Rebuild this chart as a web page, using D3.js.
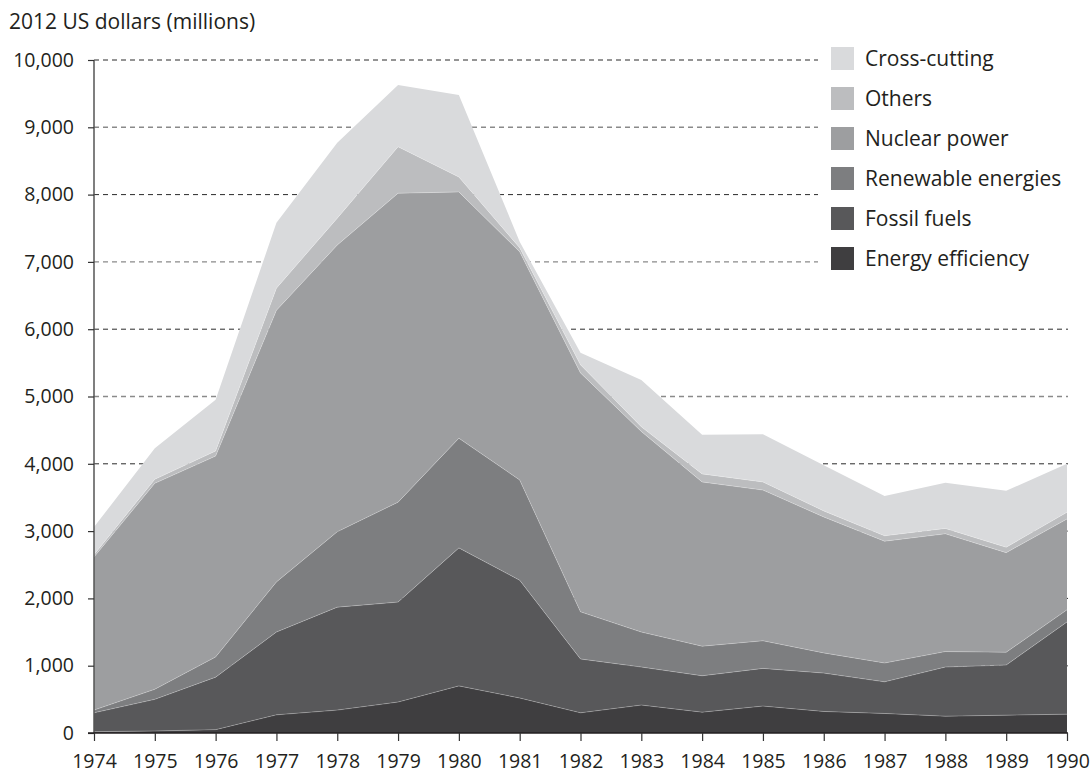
<!DOCTYPE html>
<html>
<head>
<meta charset="utf-8">
<script src="https://cdn.jsdelivr.net/npm/d3@7"></script>
<style>
  html, body { margin: 0; padding: 0; background: #fff; }
  svg { display: block; }
  text { font-family: "Open Sans", "Noto Sans", sans-serif; fill: #231f20; }
</style>
</head>
<body>
<svg id="chart" width="1090" height="775"></svg>
<script>
const years = [1974,1975,1976,1977,1978,1979,1980,1981,1982,1983,1984,1985,1986,1987,1988,1989,1990];
const energyEfficiency = [20,30,50,270,340,460,700,520,300,415,310,400,320,290,250,265,280];
const fossilFuels      = [280,470,780,1230,1530,1485,2050,1750,800,565,540,560,570,470,730,745,1370];
const renewables       = [40,150,300,745,1120,1485,1630,1490,700,520,440,410,300,280,230,190,180];
const nuclearPower     = [2275,3060,2985,4035,4260,4590,3660,3390,3550,2980,2440,2240,2020,1810,1750,1480,1350];
const others           = [35,60,75,330,400,690,220,60,120,70,120,120,90,80,80,80,100];
const crossCutting     = [410,460,760,970,1120,920,1220,90,180,695,580,710,680,590,680,840,720];

const seriesNames = ["Energy efficiency","Fossil fuels","Renewable energies","Nuclear power","Others","Cross-cutting"];
const seriesValues = [energyEfficiency, fossilFuels, renewables, nuclearPower, others, crossCutting];
const seriesColors = ["#3f3e40","#58585a","#7d7e80","#9d9ea0","#bcbdbf","#d9dadc"];
const yTicks = [0,1000,2000,3000,4000,5000,6000,7000,8000,9000,10000];
const yTitle = "2012 US dollars (millions)";

const svg = d3.select("#chart");
const x = d3.scaleLinear().domain([1974,1990]).range([94,1067]);
const y = d3.scaleLinear().domain([0,10000]).range([733,60]);

// gridlines
svg.append("g").selectAll("line").data(yTicks.filter(d => d > 0)).join("line")
  .attr("x1", 94).attr("x2", 1068)
  .attr("y1", d => y(d)).attr("y2", d => y(d))
  .attr("stroke", d => (d/1000) % 2 === 0 ? "#2b2b2b" : "#8a8a8a")
  .attr("stroke-width", d => (d/1000) % 2 === 0 ? 1 : 1.4)
  .attr("stroke-dasharray", "5,4");

// stacked data
const table = years.map((yr, i) => {
  const row = { year: yr };
  seriesNames.forEach((n, k) => row[n] = seriesValues[k][i]);
  return row;
});
const stacked = d3.stack().keys(seriesNames)(table);

const area = d3.area()
  .x(d => x(d.data.year))
  .y0(d => y(d[0]))
  .y1(d => y(d[1]));
const topLine = d3.line()
  .x(d => x(d.data.year))
  .y(d => y(d[1]));

const g = svg.append("g");
g.selectAll("path.area").data(stacked).join("path")
  .attr("class", "area")
  .attr("d", area)
  .attr("fill", (d, i) => seriesColors[i]);
g.selectAll("path.sep").data(stacked.slice(0, 5)).join("path")
  .attr("class", "sep")
  .attr("d", topLine)
  .attr("fill", "none")
  .attr("stroke", "#ffffff")
  .attr("stroke-opacity", 0.3)
  .attr("stroke-width", 0.8);

// y axis
const yAxis = d3.axisLeft(y).tickValues(yTicks)
  .tickFormat(d3.format(",")).tickSize(6).tickPadding(14);
const ya = svg.append("g").attr("transform", "translate(94,0)").call(yAxis);
ya.select(".domain").attr("stroke", "#555").attr("stroke-width", 1.5).attr("d", "M0," + y(10000) + "V" + y(0));
ya.selectAll(".tick line").attr("stroke", "#333").attr("stroke-width", 1.2);
ya.selectAll(".tick text").attr("font-size", 19.5).attr("fill", "#231f20")
  .style("font-family", '"Open Sans", "Noto Sans", sans-serif');

// x axis
const xAxis = d3.axisBottom(x).tickValues(years).tickFormat(d3.format("d"))
  .tickSize(8).tickPadding(13);
const xa = svg.append("g").attr("transform", "translate(0,733)").call(xAxis);
xa.select(".domain").attr("stroke", "#231f20").attr("stroke-width", 1.5).attr("d", "M88,0H1068");
xa.selectAll(".tick line").attr("stroke", "#333").attr("stroke-width", 1.2);
xa.selectAll(".tick text").attr("font-size", 19.5).attr("fill", "#231f20")
  .style("font-family", '"Open Sans", "Noto Sans", sans-serif');

// title
svg.append("text").attr("x", 9).attr("y", 29).attr("font-size", 21).text(yTitle);

// legend (top to bottom: Cross-cutting ... Energy efficiency), white backdrop hides gridlines
svg.append("rect").attr("x", 818).attr("y", 40).attr("width", 272).attr("height", 240).attr("fill", "#fff");
const legendItems = seriesNames.map((n, i) => ({ name: n, color: seriesColors[i] })).reverse();
const lg = svg.append("g").attr("transform", "translate(831,47)");
const li = lg.selectAll("g").data(legendItems).join("g")
  .attr("transform", (d, i) => `translate(0,${i * 40})`);
li.append("rect").attr("width", 23).attr("height", 23).attr("fill", d => d.color);
li.append("text").attr("x", 34).attr("y", 19).attr("font-size", 21).text(d => d.name);
</script>
</body>
</html>
